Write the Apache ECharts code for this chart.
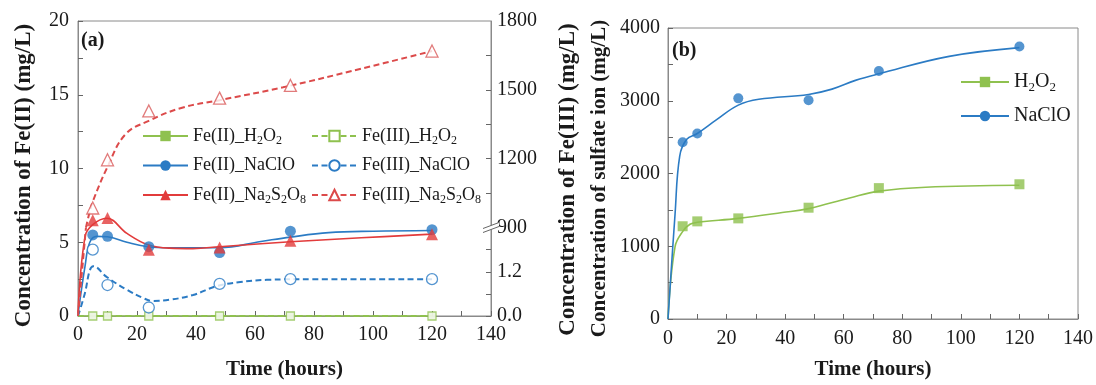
<!DOCTYPE html>
<html>
<head>
<meta charset="utf-8">
<script src="https://cdn.jsdelivr.net/npm/echarts@6/dist/echarts.min.js"></script>
<style>
  html, body { margin: 0; padding: 0; background: #fff; }
  #chart { width: 1096px; height: 385px; }
</style>
</head>
<body>
<div id="chart"></div>
<script>
// sampling times (hours)
const times = [5, 10, 24, 48, 72, 120]

// (a) measured Fe(II), mg/L
const fe2H2O2 = [0, 0, 0, 0, 0, 0]
const fe2NaClO = [5.5, 5.4, 4.7, 4.3, 5.75, 5.85]
const fe2Na2S2O8 = [6.5, 6.65, 4.5, 4.65, 5.1, 5.55]
// (a) measured Fe(III), mg/L (broken right axis)
const fe3H2O2 = [0, 0, 0, 0, 0, 0]
const fe3NaClO = [1.8, 0.84, 0.23, 0.87, 1.0, 1.0]
const fe3Na2S2O8 = [985, 1195, 1408, 1464, 1519, 1669]

// (a) fitted curves [time, value]
const fitFe2H2O2 = [[0, 0], [120, 0]]
const fitFe2NaClO = [[0, 0.1], [2.4, 3.4], [4, 5.0], [6.4, 5.4], [10, 5.37], [16.6, 5.0], [23.7, 4.7], [31, 4.63], [48, 4.63], [62, 5.05], [72, 5.35], [85, 5.65], [100, 5.75], [120, 5.8]]
const fitFe2Na2S2O8 = [[0, 0.2], [2.4, 5.4], [5, 6.2], [9.7, 6.63], [16.6, 5.6], [23.7, 4.83], [31, 4.6], [39, 4.57], [48, 4.7], [62, 4.9], [72, 5.03], [96, 5.3], [120, 5.55]]
const fitFe3H2O2 = [[0, 0], [120, 0]]
const fitFe3NaClO = [[0, 0], [2.4, 0.64], [4, 1.24], [5.2, 1.35], [9.7, 1.06], [16.6, 0.71], [22, 0.49], [25.4, 0.41], [31, 0.44], [39, 0.57], [47, 0.81], [55, 0.92], [64, 0.98], [80, 1.0], [120, 1.0]]
const fitFe3Na2S2O8Low = [[0, 0], [2.7, 2.4]]
const fitFe3Na2S2O8 = [[2.7, 900], [3.8, 960], [5, 1013], [10, 1164], [16, 1305], [24, 1365], [35, 1421], [48, 1455], [69.5, 1511], [96, 1592], [120, 1669]]

// (b) sulfate ion, mg/L
const so4H2O2 = [1275, 1342, 1383, 1530, 1799, 1852]
const so4NaClO = [2430, 2550, 3033, 3007, 3409, 3745]
const fitSo4H2O2 = [[0, 0], [2.4, 993], [5.1, 1208], [7.5, 1302], [10, 1329], [24, 1383], [39, 1463], [48, 1517], [62, 1664], [72, 1758], [88, 1812], [120, 1839]]
const fitSo4NaClO = [[0, 0], [2.4, 1436], [4, 2240], [6.4, 2470], [10, 2550], [16.6, 2740], [24, 2940], [31, 3020], [48, 3087], [56, 3160], [64, 3280], [72, 3370], [96, 3610], [120, 3730]]

// broken right axis of (a): lower part 0-2.4, upper part 900-1800
const fe3LowerLabels = [0, 1.2]
const fe3LowerTicks = [0, 0.6, 1.2, 1.8]
const fe3UpperLabels = [900, 1200, 1500, 1800]
const fe3UpperTicks = [1050, 1200, 1350, 1500, 1650]
const breakLow = 2.4
const breakHigh = 900

const GREEN = '#8fc14f'
const BLUE = '#2b7bc4'
const RED = '#e23b3b'
const RED_D = '#dc4a4a'
const FONT = "'Liberation Serif', 'Times New Roman', serif"

const pts = (ys) => times.map((t, i) => [t, ys[i]])
const sub = (name) => name.replace(/(\d)/g, '{s|$1}')
const plain = (v) => String(v)

const chart = echarts.init(document.getElementById('chart'))

const axisText = { fontFamily: FONT, fontSize: 20, color: '#1a1a1a' }
const nameText = (fontSize, shift) => ({ fontFamily: FONT, fontSize, fontWeight: 'bold', color: '#1a1a1a', padding: [0, shift, 0, 0] })
const lineCol = { lineStyle: { color: '#8a8a8a', width: 1 } }
const tickIn = { inside: true, length: 5, lineStyle: { color: '#666' } }

function xAxisFor(gridIndex, gap, margin) {
  return {
    type: 'value', gridIndex, min: 0, max: 140, interval: 20,
    name: 'Time (hours)', nameLocation: 'middle', nameGap: gap, nameTextStyle: nameText(21, 0),
    axisLine: lineCol, axisTick: tickIn,
    minorTick: { show: true, splitNumber: 2, length: 5, lineStyle: { color: '#666' } },
    axisLabel: Object.assign({ margin, formatter: plain }, axisText),
    splitLine: { show: false }
  }
}

function curve(name, data, color, yAxisIndex, symbol, dashed, xAxisIndex) {
  return {
    name, type: 'line', data, xAxisIndex: xAxisIndex || 0, yAxisIndex,
    smooth: 0.4, showSymbol: false, symbol, symbolSize: 10,
    itemStyle: { color, borderColor: color },
    lineStyle: { color, width: dashed ? 2 : 1.6, type: dashed ? [6, 3.5] : 'solid' },
    z: 2, silent: true
  }
}

function marks(data, color, yAxisIndex, symbol, size, hollow, xAxisIndex) {
  return {
    type: 'scatter', data, xAxisIndex: xAxisIndex || 0, yAxisIndex, symbol, symbolSize: size,
    itemStyle: hollow ? { color: '#fff', borderColor: color, borderWidth: 1.3 } : { color },
    z: 4, silent: true
  }
}

function legendFor(left, top, names, fontSize, itemWidth, gap) {
  return {
    orient: 'vertical', left, top, itemWidth, itemHeight: 13, itemGap: gap,
    data: names,
    formatter: sub,
    textStyle: {
      fontFamily: FONT, fontSize, color: '#1a1a1a', lineHeight: fontSize + 4,
      rich: { s: { fontFamily: FONT, fontSize: Math.round(fontSize * 0.65), lineHeight: Math.round(fontSize * 0.65), verticalAlign: 'bottom', color: '#1a1a1a' } }
    }
  }
}

const option = {
  backgroundColor: '#fff',
  animation: false,
  title: [
    { text: '(a)', left: 81, top: 31, padding: 0, textStyle: { fontFamily: FONT, fontSize: 20, fontWeight: 'bold', color: '#1a1a1a' } },
    { text: '(b)', left: 672, top: 41, padding: 0, textStyle: { fontFamily: FONT, fontSize: 20, fontWeight: 'bold', color: '#1a1a1a' } }
  ],
  grid: [
    { left: 78, top: 21, width: 413, height: 300, show: true, borderColor: '#8a8a8a', borderWidth: 1 },
    { left: 668, top: 28, width: 412, height: 299, show: true, borderColor: '#8a8a8a', borderWidth: 1 }
  ],
  legend: [
    legendFor(137, 120, ['Fe(II)_H2O2', 'Fe(II)_NaClO', 'Fe(II)_Na2S2O8'], 18, 45, 7.5),
    legendFor(306, 120, ['Fe(III)_H2O2', 'Fe(III)_NaClO', 'Fe(III)_Na2S2O8'], 18, 45, 7.5),
    legendFor(955, 65, ['H2O2', 'NaClO'], 20, 48, 10)
  ],
  xAxis: [xAxisFor(0, 43, 9), xAxisFor(1, 40, 10)],
  yAxis: [
    {
      type: 'value', gridIndex: 0, position: 'left', min: 0, max: 20, interval: 5,
      name: 'Concentration of Fe(II) (mg/L)', nameLocation: 'middle', nameGap: 42, nameRotate: 90, nameTextStyle: nameText(23, 14),
      axisLine: lineCol, axisTick: tickIn,
      minorTick: { show: true, splitNumber: 2, length: 5, lineStyle: { color: '#666' } },
      axisLabel: Object.assign({ margin: 9, formatter: plain }, axisText), splitLine: { show: false }
    },
    {
      type: 'value', gridIndex: 0, position: 'right', min: 0, max: 8,
      name: 'Concentration of Fe(III) (mg/L)', nameLocation: 'middle', nameGap: 66, nameRotate: 90, nameTextStyle: nameText(23, 22),
      axisLine: lineCol,
      axisTick: Object.assign({ customValues: fe3LowerTicks }, tickIn),
      axisLabel: Object.assign({ margin: 6, customValues: fe3LowerLabels, formatter: (v) => v.toFixed(1) }, axisText),
      splitLine: { show: false }
    },
    {
      type: 'value', gridIndex: 0, position: 'right', min: (breakHigh - 0.3 * 1800) / 0.7, max: 1800,
      axisLine: { show: false },
      axisTick: Object.assign({ customValues: fe3UpperTicks }, tickIn),
      axisLabel: Object.assign({ margin: 6, customValues: fe3UpperLabels, formatter: plain }, axisText),
      splitLine: { show: false }
    },
    {
      type: 'value', gridIndex: 1, position: 'left', min: 0, max: 4000, interval: 1000,
      name: 'Concentration of sulfate ion (mg/L)', nameLocation: 'middle', nameGap: 58, nameRotate: 90, nameTextStyle: nameText(21, 10),
      axisLine: lineCol, axisTick: tickIn,
      minorTick: { show: true, splitNumber: 2, length: 5, lineStyle: { color: '#666' } },
      axisLabel: Object.assign({ margin: 8, formatter: plain }, axisText), splitLine: { show: false }
    }
  ],
  series: [
    curve('Fe(II)_H2O2', fitFe2H2O2, GREEN, 0, 'rect', false),
    curve('Fe(II)_NaClO', fitFe2NaClO, BLUE, 0, 'circle', false),
    curve('Fe(II)_Na2S2O8', fitFe2Na2S2O8, RED, 0, 'triangle', false),
    curve('Fe(III)_H2O2', fitFe3H2O2, GREEN, 1, 'emptyRect', true),
    curve('Fe(III)_NaClO', fitFe3NaClO, BLUE, 1, 'emptyCircle', true),
    curve('Fe(III)_Na2S2O8', fitFe3Na2S2O8, RED_D, 2, 'emptyTriangle', true),
    curve('Fe(III)_Na2S2O8 start', fitFe3Na2S2O8Low, RED_D, 1, 'none', true),
    marks(pts(fe2H2O2), GREEN, 0, 'rect', 7, false),
    marks(pts(fe3H2O2), GREEN, 1, 'rect', 8, true),
    marks(pts(fe3NaClO), BLUE, 1, 'circle', 11, true),
    marks(pts(fe3Na2S2O8), '#d95a5a', 2, 'triangle', 12, true),
    marks(pts(fe2NaClO), BLUE, 0, 'circle', 11, false),
    marks(pts(fe2Na2S2O8), RED, 0, 'triangle', 12, false),
    curve('H2O2', fitSo4H2O2, GREEN, 3, 'rect', false, 1),
    curve('NaClO', fitSo4NaClO, BLUE, 3, 'circle', false, 1),
    marks(pts(so4H2O2), GREEN, 3, 'rect', 10, false, 1),
    marks(pts(so4NaClO), BLUE, 3, 'circle', 10, false, 1)
  ]
}

chart.setOption(option)

// break symbol on the right axis of (a)
const bx = chart.convertToPixel({ xAxisIndex: 0 }, 140)
const by = chart.convertToPixel({ yAxisIndex: 1 }, breakLow)
chart.setOption({
  graphic: [
    { type: 'polygon', z: 10, shape: { points: [[bx - 8, by + 1], [bx + 8, by - 5], [bx + 8, by - 1], [bx - 8, by + 5]] }, style: { fill: '#fff' } },
    { type: 'line', z: 11, shape: { x1: bx - 8, y1: by + 1, x2: bx + 8, y2: by - 5 }, style: { stroke: '#666', lineWidth: 1 } },
    { type: 'line', z: 11, shape: { x1: bx - 8, y1: by + 5, x2: bx + 8, y2: by - 1 }, style: { stroke: '#666', lineWidth: 1 } }
  ]
})

window.addEventListener('resize', () => chart.resize())
</script>
</body>
</html>
